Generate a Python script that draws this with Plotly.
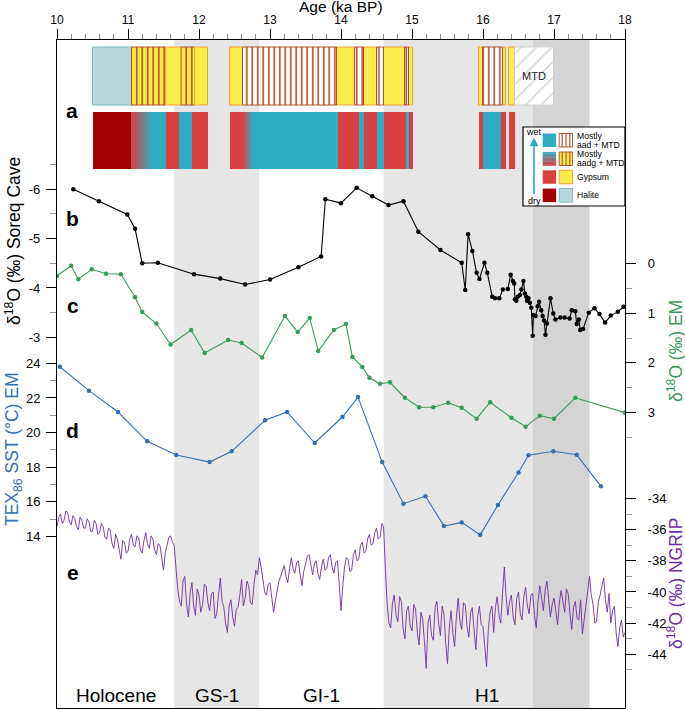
import numpy as np
import plotly.graph_objects as go

# ---------------- data ----------------
period_names = ["Holocene", "GS-1", "GI-1", "H1"]
period_start = [10.0, 11.65, 12.85, 14.6]
period_end = [11.65, 12.85, 14.6, 17.5]
shade_start = [11.65, 14.6, 16.7]
shade_end = [12.85, 16.7, 17.5]
shade_color = ["#e6e6e6", "#e6e6e6", "#d4d4d4"]

soreq_age = [10.23, 10.59, 10.99, 11.10, 11.20, 11.42, 11.93, 12.30, 12.65, 13.00, 13.40, 13.72,
             13.78, 14.00, 14.22, 14.44, 14.67, 14.88, 15.09, 15.40, 15.70, 15.75, 15.79, 15.85,
             15.91, 15.95, 16.02, 16.06, 16.13, 16.17, 16.23, 16.28, 16.35, 16.39, 16.42, 16.44,
             16.45, 16.47, 16.49, 16.52, 16.54, 16.57, 16.59, 16.61, 16.62, 16.64, 16.66, 16.68,
             16.70, 16.71, 16.74, 16.77, 16.79, 16.82, 16.84, 16.86, 16.88, 16.90, 16.95, 16.99,
             17.02, 17.09, 17.15, 17.22, 17.25, 17.30, 17.32, 17.35, 17.37, 17.41, 17.49, 17.57,
             17.64, 17.72, 17.80, 17.90, 17.98]
soreq_d18o = [-6.0, -5.76, -5.49, -5.2, -4.5, -4.51, -4.28, -4.19, -4.07, -4.17, -4.42, -4.64,
              -5.8, -5.72, -6.03, -5.86, -5.68, -5.76, -5.14, -4.77, -4.51, -3.96, -5.09, -4.75,
              -4.31, -4.18, -4.51, -4.31, -3.82, -3.79, -3.79, -3.97, -3.98, -4.27, -4.14, -4.09,
              -3.77, -3.74, -3.82, -3.86, -3.97, -4.14, -3.89, -3.82, -3.74, -3.79, -3.70, -3.60,
              -3.03, -3.45, -3.43, -3.63, -3.72, -3.55, -3.43, -3.34, -3.05, -3.28, -3.79, -3.48,
              -3.36, -3.40, -3.40, -3.38, -3.55, -3.53, -3.27, -3.36, -3.15, -3.17, -3.50, -3.59,
              -3.47, -3.30, -3.44, -3.52, -3.62]

em_age = [10.00, 10.20, 10.30, 10.49, 10.69, 10.90, 11.10, 11.20, 11.40, 11.60, 11.89, 12.08,
          12.41, 12.60, 12.89, 13.21, 13.39, 13.56, 13.68, 13.90, 14.07, 14.16, 14.30, 14.40,
          14.55, 14.69, 14.90, 15.10, 15.30, 15.51, 15.70, 15.91, 16.10, 16.40, 16.60, 16.80,
          17.00, 17.30, 18.00]
em_d18o = [0.25, 0.05, 0.32, 0.12, 0.21, 0.22, 0.68, 0.98, 1.21, 1.63, 1.34, 1.80,
           1.54, 1.60, 1.89, 1.06, 1.38, 1.10, 1.76, 1.34, 1.22, 1.88, 2.08, 2.30,
           2.42, 2.39, 2.70, 2.89, 2.89, 2.80, 2.90, 3.12, 2.79, 3.10, 3.28, 3.06,
           3.12, 2.70, 3.00]

sst_age = [10.04, 10.45, 10.86, 11.27, 11.68, 12.15, 12.46, 12.93, 13.24, 13.63, 14.02, 14.24,
           14.58, 14.88, 15.19, 15.45, 15.70, 15.96, 16.21, 16.50, 16.64, 16.99, 17.32, 17.66]
sst_val = [23.8, 22.42, 21.19, 19.5, 18.71, 18.3, 18.92, 20.71, 21.19, 19.4, 20.9, 22.05,
           18.3, 15.9, 16.33, 14.61, 14.82, 14.1, 15.82, 17.7, 18.69, 18.92, 18.72, 16.91]

# NGRIP, sampled every 0.025 ka from 10.000 to 18.000
ngrip_age = [round(10.0 + 0.025 * i, 3) for i in range(321)]
ngrip_d18o = [
    -35.8, -35.2, -35.0, -35.6, -35.4, -34.8, -34.9, -35.5, -35.7, -35.1,   # 10.000
    -35.3, -35.8, -36.0, -35.2, -35.4, -35.9, -35.9, -35.3, -35.5, -36.1,   # 10.250
    -36.1, -35.4, -35.6, -36.3, -36.2, -35.6, -35.8, -36.5, -36.6, -35.9,   # 10.500
    -36.0, -36.9, -37.2, -36.3, -36.6, -37.4, -37.9, -36.7, -36.8, -37.5,   # 10.750
    -37.4, -36.6, -36.3, -37.0, -37.1, -36.4, -36.5, -37.3, -37.5, -36.7,   # 11.000
    -36.2, -36.9, -37.2, -36.4, -36.6, -37.3, -37.6, -36.9, -37.0, -37.8,   # 11.250
    -38.6, -37.5, -36.9, -36.5, -36.4, -36.8, -37.0, -38.5, -39.8, -40.6,   # 11.500
    -40.9, -39.3, -39.0, -40.8, -41.6, -40.1, -39.4, -40.9, -41.5, -39.8,   # 11.750
    -40.2, -41.3, -40.8, -39.5, -39.6, -40.7, -41.2, -40.1, -40.0, -41.7,   # 12.000
    -41.4, -40.2, -39.1, -40.6, -41.0, -42.0, -42.6, -40.9, -40.5, -41.6,   # 12.250
    -42.2, -41.1, -41.0, -40.2, -39.2, -40.9, -40.4, -39.3, -39.6, -40.7,   # 12.500
    -40.8, -39.5, -38.6, -38.9, -37.8, -38.4, -39.2, -40.0, -40.2, -39.5,   # 12.750
    -39.4, -40.5, -41.3, -40.6, -40.0, -39.3, -39.0, -38.6, -38.3, -39.0,   # 13.000
    -39.4, -38.5, -37.8, -38.5, -38.8, -38.1, -38.0, -38.9, -39.6, -38.7,   # 13.250
    -38.2, -37.7, -37.6, -38.3, -38.9, -38.2, -38.0, -38.8, -39.2, -38.4,   # 13.500
    -37.9, -38.6, -38.5, -37.8, -37.6, -38.4, -38.8, -38.1, -38.0, -39.5,   # 13.750
    -41.2, -39.6, -38.4, -37.8, -37.9, -38.7, -38.6, -37.6, -37.3, -38.0,   # 14.000
    -37.9, -37.0, -36.8, -37.5, -37.4, -36.6, -36.3, -37.0, -36.9, -36.2,   # 14.250
    -35.9, -36.6, -36.5, -35.6, -35.8, -38.5, -40.8, -42.0, -42.3, -40.7,   # 14.500
    -40.2, -41.5, -41.9, -40.3, -40.6, -42.4, -43.0, -41.2, -40.9, -42.2,   # 14.750
    -42.5, -40.8, -41.1, -42.6, -43.4, -41.3, -41.7, -43.2, -44.9, -42.0,   # 15.000
    -41.5, -42.8, -43.1, -41.0, -40.6, -42.0, -42.8, -40.9, -41.4, -43.3,   # 15.250
    -44.6, -42.3, -41.2, -42.6, -43.5, -41.6, -40.4, -41.9, -42.4, -40.7,   # 15.500
    -40.8, -42.2, -42.9, -41.3, -41.0, -42.5, -43.7, -41.6, -40.9, -42.1,   # 15.750
    -42.2, -43.5, -44.8, -42.4, -41.3, -40.9, -42.6, -41.0, -40.3, -41.5,   # 16.000
    -42.0, -40.1, -38.4, -40.3, -41.5, -40.6, -40.2, -41.6, -42.1, -40.4,   # 16.250
    -40.0, -41.4, -41.8, -40.3, -39.7, -40.9, -41.4, -40.2, -40.1, -41.5,   # 16.500
    -42.3, -40.6, -39.6, -40.4, -41.2, -39.9, -39.3, -40.5, -41.6, -40.8,   # 16.750
    -40.4, -41.2, -42.1, -40.7, -39.9, -40.6, -41.3, -39.8, -40.1, -41.4,   # 17.000
    -42.4, -41.0, -40.6, -41.7, -41.8, -40.5, -42.7, -41.8, -40.9, -39.9,   # 17.250
    -39.0, -40.2, -40.8, -42.0, -41.9, -40.6, -40.2, -39.6, -39.1, -40.5,   # 17.500
    -41.3, -40.1, -42.0, -41.2, -40.9, -42.6, -43.5, -42.3, -41.8, -42.9,   # 17.750
    -42.6]                                                                  # 18.000

# panel a : lithology (upper row) and humidity (lower row)
top_kind = ["halite", "aadg", "gyp", "aadg", "gyp", "gyp", "aad", "gyp", "aad", "gyp", "aad",
            "gyp", "aad", "gyp", "gyp", "aad", "gyp", "gyp", "mtd"]
top_start = [10.50, 11.05, 11.53, 11.75, 11.94, 12.43, 12.62, 13.95, 14.20, 14.33, 14.50,
             14.60, 14.90, 14.96, 15.95, 16.00, 16.28, 16.37, 16.45]
top_end = [11.05, 11.53, 11.75, 11.94, 12.12, 12.62, 13.95, 14.20, 14.33, 14.50, 14.60,
           14.90, 14.96, 15.02, 16.00, 16.28, 16.32, 16.45, 17.00]

bot_kind = ["dred", "grad", "teal", "red", "teal", "red", "red", "grad", "teal", "red", "teal",
            "red", "teal", "red", "teal", "red", "red", "teal", "red", "red"]
bot_start = [10.50, 11.05, 11.35, 11.53, 11.72, 11.90, 12.43, 12.62, 12.77, 13.96, 14.25,
             14.33, 14.50, 14.60, 14.92, 14.96, 15.95, 16.00, 16.26, 16.37]
bot_end = [11.05, 11.35, 11.53, 11.72, 11.90, 12.12, 12.62, 12.77, 13.96, 14.25, 14.33,
           14.50, 14.60, 14.92, 14.96, 15.02, 16.00, 16.26, 16.32, 16.45]

legend_labels = [["Mostly", "aad + MTD"], ["Mostly", "aadg + MTD"], ["Gypsum"], ["Halite"]]

# ---------------- styles ----------------
FONT = "Liberation Sans, Arial, sans-serif"
TEAL = "#2eacc1"
RED = "#d94141"
DRED = "#a30000"
YEL = "#faed4a"
HAL = "#b8d8dc"
BROWN = "#b4572e"
C_BLACK = "#000000"
C_GREEN = "#3a9a5c"
C_BLUE = "#3a6fae"
C_PURPLE = "#7030a0"

style = {
    "halite": dict(color=HAL, line="#86b8c0", pattern=None),
    "aadg": dict(color=YEL, line="#a8502a", pattern=dict(shape="|", fgcolor=BROWN, bgcolor=YEL, size=5.5, solidity=0.3)),
    "aad": dict(color="#ffffff", line="#a8502a", pattern=dict(shape="|", fgcolor=BROWN, bgcolor="#ffffff", size=5.5, solidity=0.3)),
    "gyp": dict(color=YEL, line="#eda33a", pattern=None),
    "mtd": dict(color="#ffffff", line="#d0d0d0", pattern=dict(shape="/", fgcolor="#d0d0d0", bgcolor="#ffffff", size=11, solidity=0.12)),
    "dred": dict(color=DRED, line=None, pattern=None),
    "red": dict(color=RED, line=None, pattern=None),
    "teal": dict(color=TEAL, line=None, pattern=None),
}

# plot area geometry (pixels)
W, H = 685, 710
L, R, T, B = 57, 60, 40, 2
PW, PH = W - L - R, H - T - B


def px(x):
    return (x - L) / PW


def py(y):
    return (H - B - y) / PH


def hexrgb(h):
    h = h.lstrip("#")
    return [int(h[i:i + 2], 16) for i in (0, 2, 4)]


def mix(c1, c2, t):
    a, b = hexrgb(c1), hexrgb(c2)
    return "rgb(%d,%d,%d)" % tuple(round(a[i] + (b[i] - a[i]) * t) for i in range(3))


fig = go.Figure()

# ---- panel a bars ----
def add_row(kinds, starts, ends, row, outlined):
    for k in dict.fromkeys(kinds):
        if k == "grad":
            continue
        idx = [i for i, kk in enumerate(kinds) if kk == k]
        st = style[k]
        marker = dict(color=st["color"])
        if outlined and st["line"]:
            marker["line"] = dict(color=st["line"], width=1)
        else:
            marker["line"] = dict(width=0)
        if st["pattern"]:
            marker["pattern"] = dict(st["pattern"], fillmode="replace")
        fig.add_trace(go.Bar(
            orientation="h", yaxis="y5", xaxis="x",
            y=[row] * len(idx), base=[starts[i] for i in idx],
            x=[ends[i] - starts[i] for i in idx], width=0.9,
            marker=marker, showlegend=False, hoverinfo="skip"))
    # gradient segments red -> teal
    gi = [i for i, kk in enumerate(kinds) if kk == "grad"]
    n = 14
    for i in gi:
        s, e = starts[i], ends[i]
        d = (e - s) / n
        fig.add_trace(go.Bar(
            orientation="h", yaxis="y5", xaxis="x",
            y=[row] * n, base=[s + j * d for j in range(n)], x=[d * 1.02] * n, width=0.9,
            marker=dict(color=[mix(RED, TEAL, (j + 0.5) / n) for j in range(n)], line=dict(width=0)),
            showlegend=False, hoverinfo="skip"))


add_row(top_kind, top_start, top_end, 0, True)
add_row(bot_kind, bot_start, bot_end, 1, False)

# ---- curves ----
fig.add_trace(go.Scatter(x=ngrip_age, y=ngrip_d18o, yaxis="y4", mode="lines",
                         line=dict(color=C_PURPLE, width=0.9), showlegend=False, hoverinfo="skip"))
fig.add_trace(go.Scatter(x=sst_age, y=sst_val, yaxis="y2", mode="lines+markers",
                         line=dict(color=C_BLUE, width=1.1), marker=dict(color=C_BLUE, size=4.5),
                         showlegend=False, hoverinfo="skip"))
fig.add_trace(go.Scatter(x=em_age, y=em_d18o, yaxis="y3", mode="lines+markers",
                         line=dict(color=C_GREEN, width=1.1), marker=dict(color=C_GREEN, size=4.5),
                         showlegend=False, hoverinfo="skip"))
fig.add_trace(go.Scatter(x=soreq_age, y=soreq_d18o, yaxis="y", mode="lines+markers",
                         line=dict(color=C_BLACK, width=1.1), marker=dict(color=C_BLACK, size=4.5),
                         showlegend=False, hoverinfo="skip"))

shapes = []
# shaded periods
for s, e, c in zip(shade_start, shade_end, shade_color):
    shapes.append(dict(type="rect", xref="x", yref="paper", x0=s, x1=e, y0=0, y1=1,
                       fillcolor=c, line=dict(width=0), layer="below"))

# ---- custom legend (layout decoration) ----
lx0, lx1, ly0, ly1 = 523, 625, 127, 206
shapes.append(dict(type="rect", xref="paper", yref="paper", x0=px(lx0), x1=px(lx1), y0=py(ly1), y1=py(ly0),
                   fillcolor="white", line=dict(color="black", width=1.2), layer="above"))
rows_y = [133.5, 152, 170.3, 188.6]
sw_h = 13.5
c1x, c2x, sw_w = 542.7, 559.2, 13.4
left_fill = [TEAL, None, RED, DRED]
right_fill = [("#ffffff", BROWN, True), (YEL, BROWN, True), (YEL, "#eda33a", False), (HAL, "#86b8c0", False)]
for r, y0 in enumerate(rows_y):
    y1 = y0 + sw_h
    if left_fill[r] is None:
        n = 10
        for j in range(n):
            ya = y0 + j * sw_h / n
            shapes.append(dict(type="rect", xref="paper", yref="paper", x0=px(c1x), x1=px(c1x + sw_w),
                               y0=py(ya + sw_h / n + 0.3), y1=py(ya), fillcolor=mix(TEAL, RED, (j + 0.5) / n),
                               line=dict(width=0), layer="above"))
    else:
        shapes.append(dict(type="rect", xref="paper", yref="paper", x0=px(c1x), x1=px(c1x + sw_w),
                           y0=py(y1), y1=py(y0), fillcolor=left_fill[r], line=dict(width=0), layer="above"))
    fill, edge, striped = right_fill[r]
    shapes.append(dict(type="rect", xref="paper", yref="paper", x0=px(c2x), x1=px(c2x + sw_w),
                       y0=py(y1), y1=py(y0), fillcolor=fill, line=dict(color=edge, width=1), layer="above"))
    if striped:
        for k in range(3):
            xx = c2x + 3.0 + k * 3.8
            shapes.append(dict(type="line", xref="paper", yref="paper", x0=px(xx), x1=px(xx),
                               y0=py(y1), y1=py(y0), line=dict(color=BROWN, width=1.2), layer="above"))

annotations = []
for r, lab in enumerate(legend_labels):
    yc = rows_y[r] + sw_h / 2
    if len(lab) == 2:
        ys = [yc - 4.3, yc + 4.3]
    else:
        ys = [yc]
    for t, yy in zip(lab, ys):
        annotations.append(dict(xref="paper", yref="paper", x=px(575), y=py(yy), text=t, showarrow=False,
                                xanchor="left", yanchor="middle",
                                font=dict(family=FONT, size=8.6, color="black")))
annotations.append(dict(xref="paper", yref="paper", x=px(534), y=py(132), text="wet", showarrow=False,
                        xanchor="center", yanchor="middle", font=dict(family=FONT, size=9, color="black")))
annotations.append(dict(xref="paper", yref="paper", x=px(534), y=py(201.5), text="dry", showarrow=False,
                        xanchor="center", yanchor="middle", font=dict(family=FONT, size=9, color="black")))
annotations.append(dict(xref="paper", yref="paper", x=px(534), y=py(137.5), ax=0, ay=58, axref="pixel",
                        ayref="pixel", text="", showarrow=True, arrowhead=2, arrowsize=1.1, arrowwidth=1.6,
                        arrowcolor=TEAL))

# MTD label
annotations.append(dict(xref="x", yref="y5", x=(top_start[-1] + top_end[-1]) / 2, y=0, text="MTD",
                        showarrow=False, xanchor="center", yanchor="middle",
                        font=dict(family=FONT, size=11, color="#222")))

# period labels
for n_, s, e in zip(period_names, period_start, period_end):
    annotations.append(dict(xref="x", yref="paper", x=(s + e) / 2, y=py(695.5), text=n_, showarrow=False,
                            xanchor="center", yanchor="middle", font=dict(family=FONT, size=19, color="black")))

# panel letters
for lab, xx, yy in [("a", 72, 110), ("b", 72.5, 218), ("c", 72.5, 305), ("d", 72.5, 430), ("e", 72.5, 572)]:
    annotations.append(dict(xref="paper", yref="paper", x=px(xx), y=py(yy), text="<b>%s</b>" % lab,
                            showarrow=False, xanchor="center", yanchor="middle",
                            font=dict(family=FONT, size=21, color="black")))

# axis titles
def title(x, y, text, color, angle=-90, size=17.5):
    return dict(xref="paper", yref="paper", x=px(x), y=py(y), text=text, textangle=angle,
                showarrow=False, xanchor="center", yanchor="middle",
                font=dict(family=FONT, size=size, color=color))


annotations += [
    title(341, 6, "Age (ka BP)", "black", angle=0, size=15.5),
    title(13, 241, "δ<sup>18</sup>O (‰) Soreq Cave", "black"),
    title(13, 449, "TEX<sub>86</sub> SST (°C) EM", C_BLUE),
    title(675, 351, "δ<sup>18</sup>O (‰) EM", C_GREEN),
    title(675, 584, "δ<sup>18</sup>O (‰) NGRIP", C_PURPLE),
]

tickfont = dict(family=FONT, size=13, color="black")


def yax(rng, vals, minor_vals, side, showline, overlay=True):
    d = dict(range=rng, side=side, anchor="x", showgrid=False, zeroline=False,
             showline=showline, linecolor="black", linewidth=1.2,
             ticks="outside", ticklen=10, tickwidth=1.2, tickcolor="black",
             tickmode="array", tickvals=vals, ticktext=["%g" % v for v in vals],
             tickfont=tickfont, ticklabelstandoff=3 if side == "left" else 9,
             minor=dict(tickmode="array", tickvals=minor_vals, ticks="outside", ticklen=6,
                        tickwidth=1.2, tickcolor="#999999", showgrid=False))
    if overlay:
        d["overlaying"] = "y"
    return d


layout_axes = dict(
    xaxis=dict(range=[10, 18], side="top", showgrid=False, zeroline=False, showline=True, mirror=True,
               linecolor="black", linewidth=1.3, ticks="outside", ticklen=10, tickwidth=1.2,
               tickcolor="black", tickmode="array", tickvals=list(range(10, 19)),
               tickfont=dict(family=FONT, size=12, color="black"),
               minor=dict(dtick=0.2, tick0=10, ticks="outside", ticklen=5, tickwidth=1.2,
                          tickcolor="#888888", showgrid=False), domain=[0, 1]),
    yaxis=yax([4.515, -9.027], [-6, -5, -4, -3], [-6.5, -5.5, -4.5, -3.5], "left", True, overlay=False),
    yaxis2=yax([4.109, 42.656], [14, 16, 18, 20, 22, 24], [15, 17, 19, 21, 23], "left", False),
    yaxis3=yax([8.930, -4.484], [0, 1, 2, 3], [0.5, 1.5, 2.5, 3.5], "right", True),
    yaxis4=yax([-47.447, -4.571], [-44, -42, -40, -38, -36, -34], [-45, -43, -41, -39, -37, -35], "right", False),
    yaxis5=dict(range=[1.5, -0.5], domain=[py(172), py(44.5)], anchor="x", visible=False, fixedrange=True),
)

fig.update_layout(
    width=W, height=H, margin=dict(l=L, r=R, t=T, b=B, pad=0),
    paper_bgcolor="white", plot_bgcolor="rgba(0,0,0,0)", barmode="overlay", bargap=0,
    showlegend=False, shapes=shapes, annotations=annotations,
    font=dict(family=FONT, color="black"), **layout_axes)

fig.write_html("out.html", config={"displayModeBar": False},
               post_script="document.body.style.margin='0';document.body.style.overflow='hidden';")
